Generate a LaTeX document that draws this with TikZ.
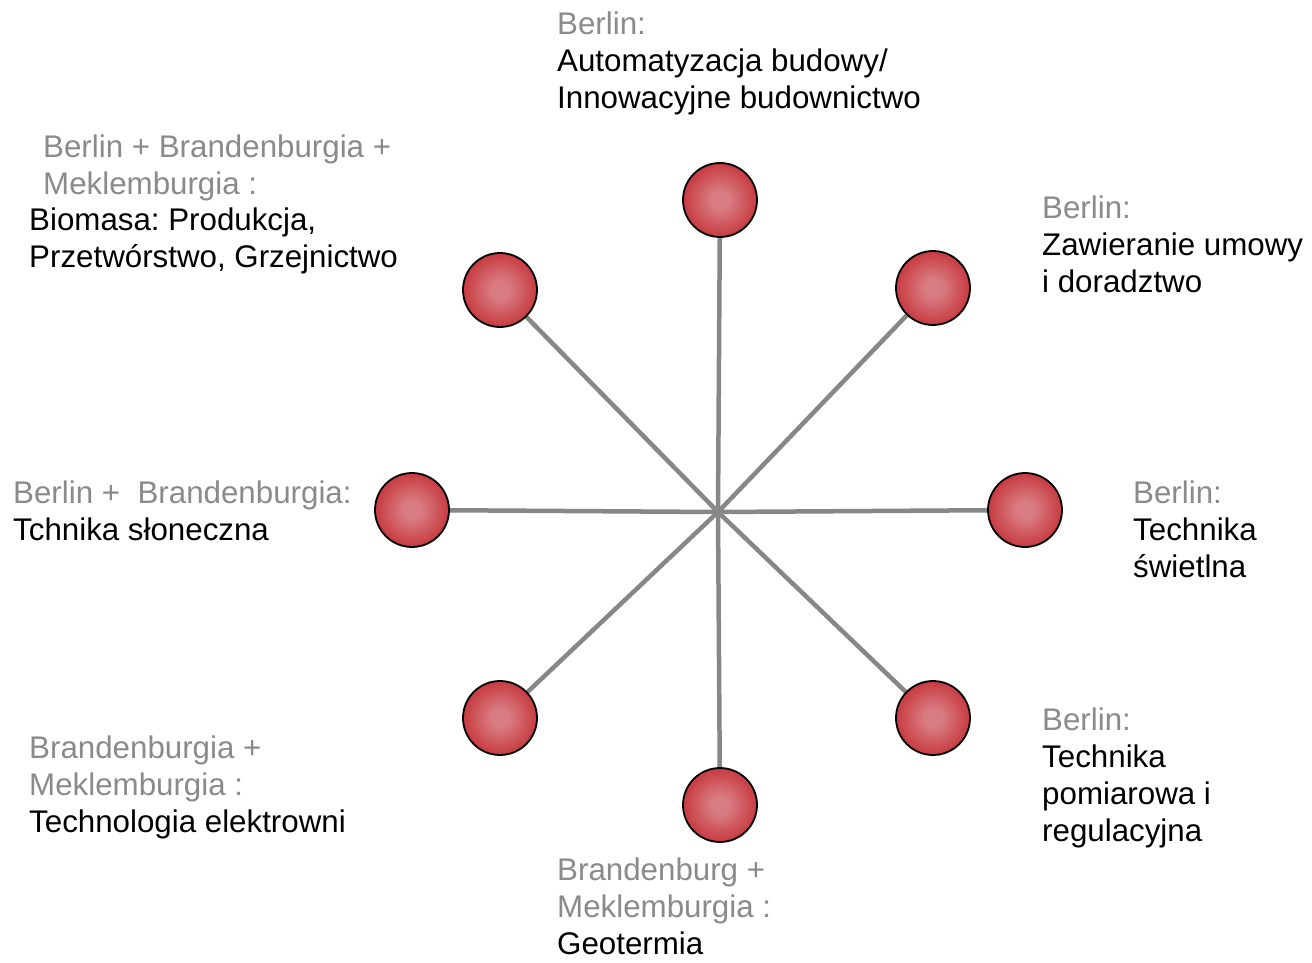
\documentclass[tikz,border=0pt]{standalone}
\usepackage{fontspec}
\setmainfont{Liberation Sans}
\usetikzlibrary{backgrounds}
\definecolor{balllight}{RGB}{216,124,130}
\definecolor{ballmid}{RGB}{200,62,68}
\definecolor{balldark}{RGB}{182,30,36}
\definecolor{ballrim}{RGB}{160,18,24}
\definecolor{spoke}{RGB}{135,135,135}
\definecolor{graytxt}{RGB}{138,138,138}
\pgfdeclareradialshading{redball}{\pgfpoint{0bp}{0bp}}{color(0bp)=(balllight); color(6bp)=(balllight); color(24bp)=(ballmid); color(44bp)=(balldark); color(50bp)=(ballrim)}
\tikzset{
  ball/.style={circle, minimum size=74pt, inner sep=0pt, draw=black, line width=1.8pt, shading=redball},
  spokeline/.style={draw=spoke, line width=4.5pt},
  lbl/.style={anchor=north west, inner sep=0pt, align=left, font=\fontsize{31.3}{37}\selectfont},
  grey/.style={text=graytxt},
}
\begin{document}
\frenchspacing
\begin{tikzpicture}[x=1pt,y=-1pt]
\useasboundingbox (0,0) rectangle (1312,963);
\coordinate (hub) at (718,512);
\node[ball] (top) at (720,200) {};
\node[ball] (tr) at (933,288) {};
\node[ball] (r) at (1025,510) {};
\node[ball] (br) at (933,718) {};
\node[ball] (b) at (720,805) {};
\node[ball] (bl) at (500,718) {};
\node[ball] (l) at (412,510) {};
\node[ball] (tl) at (500,290) {};
\begin{scope}[on background layer]
\foreach \n in {top,tr,r,br,b,bl,l,tl} \draw[spokeline] (hub) -- (\n.center);
\end{scope}
% labels
\node[lbl] (ttop) at (557,11.5) {{\color{graytxt}Berlin:}\\Automatyzacja budowy/\\Innowacyjne budownictwo};
\node[lbl,grey] (ttlg) at (43,134.5) {Berlin + Brandenburgia +\\Meklemburgia :};
\node[lbl] (ttlb) at (29,207.5) {Biomasa: Produkcja,\\Przetwórstwo, Grzejnictwo};
\node[lbl] (ttr) at (1042,195.5) {{\color{graytxt}Berlin:}\\Zawieranie umowy\\i doradztwo};
\node[lbl] (tl2) at (13,480.5) {{\color{graytxt}Berlin +\ \ Brandenburgia:}\\Tchnika słoneczna};
\node[lbl] (tr2) at (1133,480.5) {{\color{graytxt}Berlin:}\\Technika\\świetlna};
\node[lbl] (tbr) at (1042,707.5) {{\color{graytxt}Berlin:}\\Technika\\pomiarowa i\\regulacyjna};
\node[lbl] (tb) at (557,857.5) {{\color{graytxt}Brandenburg +}\\{\color{graytxt}Meklemburgia :}\\Geotermia};
\node[lbl] (tbl) at (29,735.5) {{\color{graytxt}Brandenburgia +}\\{\color{graytxt}Meklemburgia :}\\Technologia elektrowni};
\end{tikzpicture}
\end{document}
